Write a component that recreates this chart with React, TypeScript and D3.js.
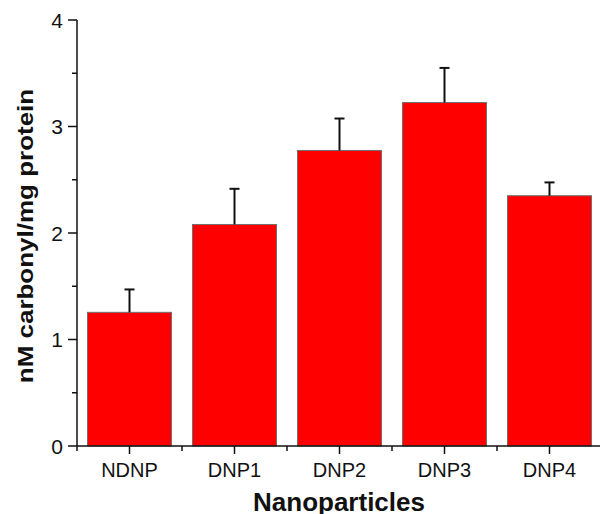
import React, { useRef, useEffect } from 'react';
import * as d3 from 'd3';

// carbonyl content per nanoparticle type (mean + upper SD)
const categories = ['NDNP', 'DNP1', 'DNP2', 'DNP3', 'DNP4'];
const means = [1.255, 2.08, 2.775, 3.225, 2.35];
const errors = [0.215, 0.335, 0.30, 0.325, 0.125];
const yTicks = [0, 1, 2, 3, 4];
const yMinorTicks = [0.5, 1.5, 2.5, 3.5];

const W = 600;
const H = 514;
const FONT = 'Arial, "Liberation Sans", Helvetica, sans-serif';

export default function App() {
  const svgRef = useRef<SVGSVGElement>(null);

  useEffect(() => {
    if (!svgRef.current) return;
    const svg = d3.select(svgRef.current);
    svg.selectAll('*').remove();

    const x0 = 77, x1 = 602;
    const y = d3.scaleLinear().domain([0, 4]).range([446, 20]);
    const x = d3.scaleBand<string>().domain(categories).range([x0, x1]).paddingInner(0.2).paddingOuter(0.1);

    // bars
    svg.append('g').selectAll('rect').data(means).join('rect')
      .attr('x', (_, i) => x(categories[i]) || 0)
      .attr('y', d => y(d))
      .attr('width', x.bandwidth())
      .attr('height', d => y(0) - y(d))
      .attr('fill', '#ff0000')
      .attr('stroke', '#707070')
      .attr('stroke-width', 1);

    // error bars (upper only)
    const eg = svg.append('g').attr('stroke', '#111').attr('stroke-width', 2);
    means.forEach((m, i) => {
      const cx = (x(categories[i]) || 0) + x.bandwidth() / 2;
      const top = y(m + errors[i]);
      eg.append('line').attr('x1', cx).attr('x2', cx).attr('y1', y(m)).attr('y2', top);
      eg.append('line').attr('x1', cx - 5).attr('x2', cx + 5).attr('y1', top).attr('y2', top);
    });

    // y axis
    const ax = svg.append('g').attr('stroke', '#111').attr('stroke-width', 1.5);
    ax.append('line').attr('x1', x0).attr('x2', x0).attr('y1', y(4)).attr('y2', y(0));
    yTicks.forEach(t => {
      ax.append('line').attr('x1', x0 - 9).attr('x2', x0).attr('y1', y(t)).attr('y2', y(t));
    });
    yMinorTicks.forEach(t => {
      ax.append('line').attr('x1', x0 - 5).attr('x2', x0).attr('y1', y(t)).attr('y2', y(t));
    });
    svg.append('g').selectAll('text').data(yTicks).join('text')
      .attr('x', 63).attr('y', d => y(d))
      .attr('dy', '0.36em')
      .attr('text-anchor', 'end')
      .style('font-family', FONT).style('font-size', '21px').style('fill', '#111')
      .text(d => d);

    // x axis: boundary ticks and category ticks
    ax.append('line').attr('x1', x0).attr('x2', x1).attr('y1', y(0)).attr('y2', y(0));
    const bounds = d3.range(categories.length + 1).map(i => x0 + i * (x1 - x0) / categories.length);
    bounds.forEach(b => {
      ax.append('line').attr('x1', b).attr('x2', b).attr('y1', y(0)).attr('y2', y(0) + 5);
    });
    categories.forEach(c => {
      const cx = (x(c) || 0) + x.bandwidth() / 2;
      ax.append('line').attr('x1', cx).attr('x2', cx).attr('y1', y(0)).attr('y2', y(0) + 8);
    });
    svg.append('g').selectAll('text').data(categories).join('text')
      .attr('x', d => (x(d) || 0) + x.bandwidth() / 2).attr('y', 476.5)
      .attr('text-anchor', 'middle')
      .style('font-family', FONT).style('font-size', '20px').style('fill', '#111')
      .text(d => d);

    // axis titles
    svg.append('text')
      .attr('x', 339).attr('y', 511)
      .attr('text-anchor', 'middle')
      .style('font-family', FONT).style('font-size', '26px').style('font-weight', 'bold').style('fill', '#111')
      .text('Nanoparticles');

    svg.append('text')
      .attr('transform', 'translate(33,236) rotate(-90) scale(1,0.88)')
      .attr('text-anchor', 'middle')
      .style('font-family', FONT).style('font-size', '26px').style('font-weight', 'bold').style('fill', '#111')
      .text('nM carbonyl/mg protein');
  }, []);

  return (
    <svg ref={svgRef} width={W} height={H}
      style={{ position: 'absolute', left: 0, top: 0, background: '#fff' }} />
  );
}
